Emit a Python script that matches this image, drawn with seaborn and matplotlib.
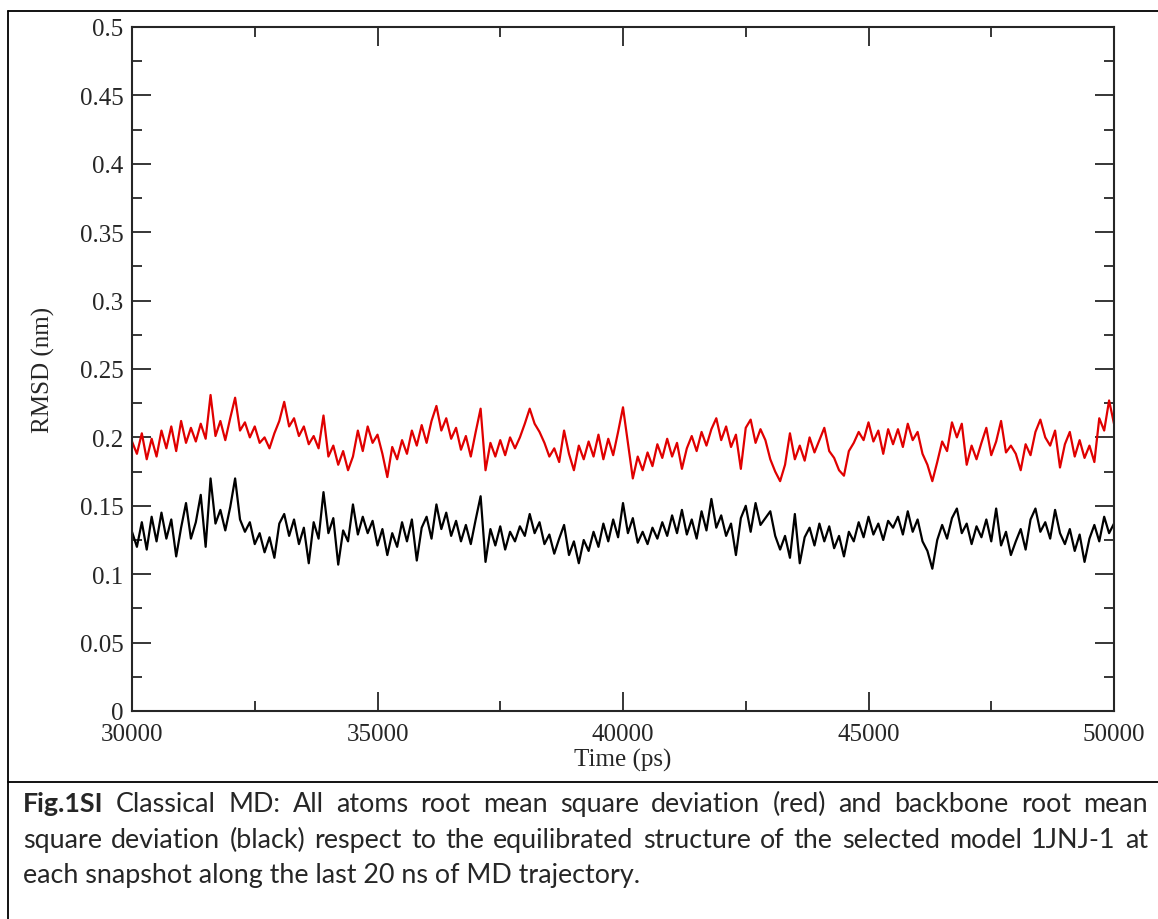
import numpy as np
import pandas as pd
import matplotlib
matplotlib.use("Agg")
import matplotlib.pyplot as plt
import seaborn as sns
from matplotlib.ticker import MultipleLocator, FuncFormatter
from matplotlib.lines import Line2D

# Time axis: one sample every 100 ps over the last 20 ns
time_ps = np.arange(30000, 50001, 100)

# RMSD values, in pm (1 nm = 1000 pm)
rmsd_all_pm = [
    197, 188, 203, 184, 199, 186, 205, 192, 208, 190,
    212, 196, 207, 197, 210, 199, 231, 201, 212, 198,
    214, 229, 205, 211, 200, 208, 196, 200, 192, 203,
    212, 226, 208, 214, 201, 208, 195, 201, 192, 216,
    186, 194, 180, 190, 176, 186, 205, 190, 208, 196,
    202, 188, 171, 193, 184, 198, 188, 205, 194, 209,
    196, 212, 223, 205, 214, 199, 207, 191, 201, 186,
    204, 221, 176, 196, 186, 198, 187, 200, 192, 200,
    210, 221, 210, 204, 196, 186, 192, 182, 205, 188,
    176, 194, 184, 197, 186, 202, 184, 199, 187, 204,
    222, 196, 170, 186, 176, 189, 179, 195, 185, 199,
    186, 196, 177, 192, 201, 190, 204, 194, 206, 214,
    198, 208, 193, 202, 177, 207, 213, 196, 206, 198,
    184, 175, 168, 180, 203, 184, 194, 183, 200, 189,
    198, 207, 190, 185, 176, 172, 190, 196, 204, 198,
    211, 197, 205, 188, 206, 195, 206, 193, 210, 198,
    204, 188, 180, 168, 182, 197, 190, 211, 200, 210,
    180, 194, 184, 196, 207, 187, 197, 212, 189, 194,
    188, 176, 195, 187, 204, 213, 200, 194, 205, 178,
    195, 204, 186, 198, 185, 194, 182, 214, 205, 227, 210,
]

rmsd_backbone_pm = [
    131, 120, 138, 118, 142, 124, 145, 126, 140, 113,
    134, 152, 126, 138, 158, 120, 170, 137, 147, 132,
    149, 170, 140, 131, 138, 122, 130, 116, 127, 112,
    137, 144, 128, 140, 122, 134, 108, 138, 126, 160,
    130, 141, 107, 132, 124, 151, 129, 142, 130, 139,
    121, 133, 114, 130, 120, 138, 124, 140, 110, 134,
    142, 126, 151, 133, 145, 128, 139, 124, 136, 122,
    140, 157, 109, 133, 121, 135, 118, 131, 124, 135,
    128, 144, 130, 138, 122, 129, 115, 126, 136, 114,
    124, 108, 125, 117, 131, 120, 137, 124, 140, 127,
    152, 130, 141, 123, 131, 122, 134, 126, 138, 128,
    143, 130, 147, 129, 140, 126, 146, 132, 155, 134,
    143, 128, 137, 114, 141, 150, 131, 152, 136, 141,
    146, 128, 118, 128, 112, 144, 108, 127, 134, 121,
    137, 124, 135, 119, 128, 113, 131, 124, 138, 127,
    142, 129, 137, 125, 139, 134, 142, 129, 146, 131,
    140, 124, 117, 104, 125, 136, 126, 141, 148, 130,
    137, 122, 135, 127, 140, 124, 148, 121, 131, 114,
    124, 133, 118, 140, 148, 131, 138, 126, 147, 130,
    122, 133, 117, 129, 109, 126, 136, 124, 142, 130, 137,
]

caption_line1 = "Classical MD: All atoms root mean square deviation (red) and backbone root mean"
caption_line2 = "square deviation (black) respect to the equilibrated structure of the selected model 1JNJ-1 at"
caption_line3 = "each snapshot along the last 20 ns of MD trajectory."

df = pd.DataFrame({
    "Time (ps)": time_ps,
    "all": np.array(rmsd_all_pm) / 1000.0,
    "backbone": np.array(rmsd_backbone_pm) / 1000.0,
})

sns.set_style("ticks")
plt.rcParams["font.family"] = ["Liberation Serif", "DejaVu Serif"]

W, H = 1158, 920
fig = plt.figure(figsize=(W / 100, H / 100), dpi=100)
ax = fig.add_axes([132 / W, (H - 712) / H, (1114 - 132) / W, (712 - 28) / H])

sns.lineplot(data=df, x="Time (ps)", y="all", color="#e00000", lw=1.6, ax=ax)
sns.lineplot(data=df, x="Time (ps)", y="backbone", color="black", lw=1.6, ax=ax)

ax.set_xlim(30000, 50000)
ax.set_ylim(0, 0.5)
ax.xaxis.set_major_locator(MultipleLocator(5000))
ax.xaxis.set_minor_locator(MultipleLocator(2500))
ax.yaxis.set_major_locator(MultipleLocator(0.05))
ax.yaxis.set_minor_locator(MultipleLocator(0.025))
ax.yaxis.set_major_formatter(FuncFormatter(lambda v, p: f"{v:g}"))
ax.xaxis.set_major_formatter(FuncFormatter(lambda v, p: f"{int(v)}"))

ax.tick_params(which="both", direction="in", top=True, right=True, width=1.3, labelsize=18)
ax.tick_params(which="major", length=13.5)
ax.tick_params(which="minor", length=7)
ax.tick_params(axis="x", pad=9)
ax.tick_params(axis="y", pad=6)
for s in ax.spines.values():
    s.set_linewidth(1.5)

ax.set_xlabel("Time (ps)", fontsize=18, labelpad=2)
ax.set_ylabel("RMSD (nm)", fontsize=18, labelpad=18)

# outer frame and caption separator
def fline(x0, y0, x1, y1):
    fig.add_artist(Line2D([x0 / W, x1 / W], [1 - y0 / H, 1 - y1 / H], color="black", lw=1.3))

fline(8, 12, W, 12)
fline(8, 12, 8, H)
fline(8, 783, W, 783)

# caption, justified like the original
cap_font = "Lato"
renderer = fig.canvas.get_renderer()
left_px, right_px = 23, 1148

probe = fig.text(0, 0, caption_line3, fontsize=16, family=cap_font)
w3 = probe.get_window_extent(renderer).width
probe.remove()
cap_size = 16 * 619 / w3


def justify(words, y_base, bold_first=False):
    texts = []
    for k, wd in enumerate(words):
        t = fig.text(0, 1 - y_base / H, wd, fontsize=cap_size, family=cap_font,
                     fontweight="bold" if (bold_first and k == 0) else "normal",
                     va="baseline", ha="left")
        texts.append(t)
    widths = [t.get_window_extent(renderer).width for t in texts]
    gap = (right_px - left_px - sum(widths)) / (len(words) - 1)
    x = left_px
    for t, w in zip(texts, widths):
        t.set_x(x / W)
        x += w + gap


justify(["Fig.1SI"] + caption_line1.split(), 812, bold_first=True)
justify(caption_line2.split(), 848)
fig.text(left_px / W, 1 - 883 / H, caption_line3, fontsize=cap_size, family=cap_font,
         va="baseline", ha="left")

fig.savefig("out.png", dpi=100)
